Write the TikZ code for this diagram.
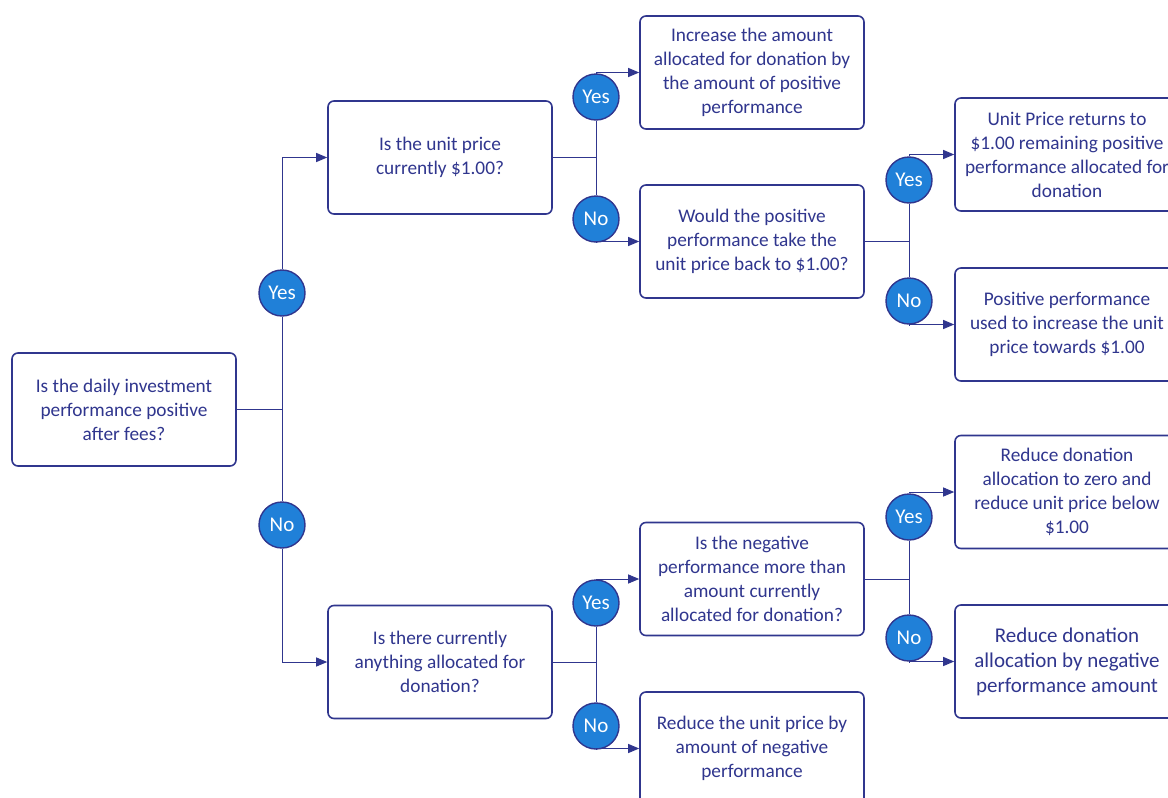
\documentclass[tikz,border=0pt]{standalone}
\usepackage{fontspec}
\setmainfont{Carlito}
\usetikzlibrary{arrows.meta}
\definecolor{navy}{RGB}{48,54,142}
\definecolor{ballblue}{RGB}{32,128,216}
\begin{document}
\begin{tikzpicture}[x=1pt,y=-1pt,
    box/.style={draw=navy,line width=1.6pt,rounded corners=6pt,fill=white,
      minimum width=224pt,minimum height=113pt,align=center,text=navy,inner sep=1pt,
      font=\fontsize{19.3}{24}\selectfont},
    ans/.style={circle,draw=navy,line width=1.4pt,fill=ballblue,minimum size=46pt,
      inner sep=0pt,text=white,font=\fontsize{21}{22}\selectfont},
    link/.style={navy,line width=1pt},
    go/.style={link,-{Triangle[length=11pt,width=9pt]}}]
    \clip (0,0) rectangle (1168,798);
    \node[box] (start) at (124,409.5) {Is the daily investment\\performance positive\\after fees?};
    \node[box] (isone) at (440,157.5) {Is the unit price\\currently \$1.00?};
    \node[box] (anyalloc) at (440,662) {Is there currently\\anything allocated for\\donation?};
    \node[box] (increase) at (752,72.5) {Increase the amount\\allocated for donation by\\the amount of positive\\performance};
    \node[box] (backone) at (752,241.5) {Would the positive\\performance take the\\unit price back to \$1.00?};
    \node[box] (morethan) at (752,579) {Is the negative\\performance more than\\amount currently\\allocated for donation?};
    \node[box] (cutprice) at (752,748.5) {Reduce the unit price by\\amount of negative\\performance};
    \node[box] (returns) at (1067,154.5) {Unit Price returns to\\\$1.00 remaining positive\\performance allocated for\\donation};
    \node[box] (raise) at (1067,324.5) {Positive performance\\used to increase the unit\\price towards \$1.00};
    \node[box] (tozero) at (1067,492) {Reduce donation\\allocation to zero and\\reduce unit price below\\\$1.00};
    \node[box,font=\fontsize{21}{25}\selectfont] (bynegative) at (1067,661.5) {Reduce donation\\allocation by negative\\performance amount};
    \node[ans] (yes1) at (282,293) {Yes};
    \node[ans] (no1) at (282,525) {No};
    \node[ans] (yes2) at (596,97) {Yes};
    \node[ans] (no2) at (596,219) {No};
    \node[ans] (yes3) at (909,180) {Yes};
    \node[ans] (no3) at (909,301) {No};
    \node[ans] (yes4) at (596,603) {Yes};
    \node[ans] (no4) at (596,726) {No};
    \node[ans] (yes5) at (909,517) {Yes};
    \node[ans] (no5) at (909,638) {No};
    \draw[link] (start.east) -- (start.east -| yes1.center);
    \draw[link] (yes1.south) -- (no1.north);
    \draw[go] (yes1.north) |- (isone.west);
    \draw[go] (no1.south) |- (anyalloc.west);
    \draw[link] (isone.east) -- (isone.east -| yes2.center);
    \draw[link] (yes2.south) -- (no2.north);
    \draw[go] (yes2.north) |- (increase.west);
    \draw[go] (no2.south) |- (backone.west);
    \draw[link] (backone.east) -- (backone.east -| yes3.center);
    \draw[link] (yes3.south) -- (no3.north);
    \draw[go] (yes3.north) |- (returns.west);
    \draw[go] (no3.south) |- (raise.west);
    \draw[link] (anyalloc.east) -- (anyalloc.east -| yes4.center);
    \draw[link] (yes4.south) -- (no4.north);
    \draw[go] (yes4.north) |- (morethan.west);
    \draw[go] (no4.south) |- (cutprice.west);
    \draw[link] (morethan.east) -- (morethan.east -| yes5.center);
    \draw[link] (yes5.south) -- (no5.north);
    \draw[go] (yes5.north) |- (tozero.west);
    \draw[go] (no5.south) |- (bynegative.west);
\end{tikzpicture}
\end{document}
